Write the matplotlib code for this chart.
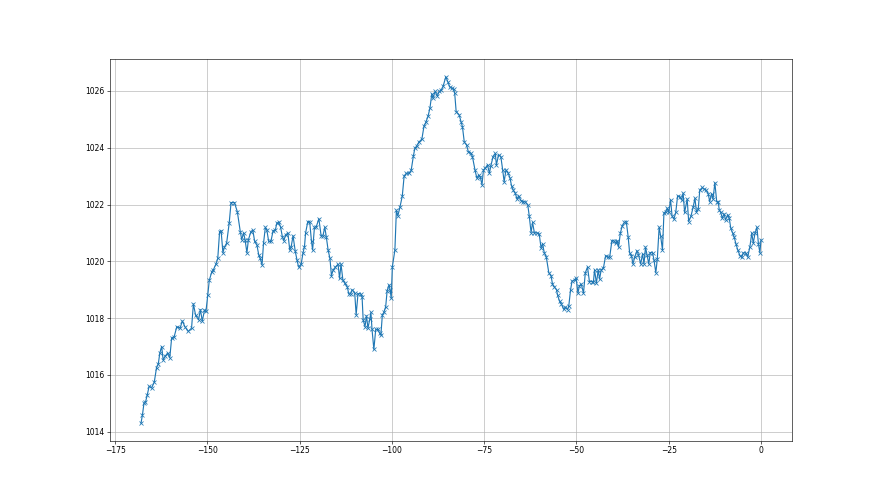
import numpy as np
import matplotlib
matplotlib.use("Agg")
import matplotlib.pyplot as plt

# hours relative to now, and pressure (hPa) in segments
hours_a = [-168.0, -167.6, -167.2, -166.8, -166.3, -165.8, -165.1, -164.4, -163.8, -163.3,
           -162.9, -162.4, -162.0, -161.5, -160.8, -160.2, -159.7, -159.0, -158.3, -157.4,
           -156.8, -156.1, -155.2, -154.3, -153.8, -153.2, -152.4, -151.9, -151.4, -150.8,
           -150.4, -149.9, -149.5, -148.8, -148.4, -147.7, -147.2, -146.7, -146.3, -145.8,
           -145.4, -144.8, -144.1, -143.6, -142.7, -141.9, -141.1, -140.7]
pres_a = [1014.3, 1014.6, 1015.0, 1015.03, 1015.3, 1015.6, 1015.55, 1015.75, 1016.25, 1016.4,
          1016.77, 1017.0, 1016.53, 1016.65, 1016.77, 1016.6, 1017.3, 1017.35, 1017.7, 1017.65,
          1017.9, 1017.7, 1017.53, 1017.65, 1018.5, 1018.1, 1017.94, 1018.3, 1017.9, 1018.27,
          1018.24, 1018.82, 1019.33, 1019.64, 1019.7, 1019.9, 1020.1, 1021.05, 1021.08, 1020.3,
          1020.5, 1020.64, 1021.35, 1022.07, 1022.07, 1021.75, 1021.05, 1020.76]

hours_b = [-140.2, -139.8, -139.3, -138.9, -138.2, -137.7, -137.2, -136.6, -136.1, -135.7,
           -135.2, -134.8, -134.3, -133.9, -133.4, -132.8, -132.2, -131.6, -131.2, -130.7,
           -130.2, -129.7, -129.3, -128.8, -128.2, -127.7, -127.3, -126.8, -126.2, -125.7,
           -125.3, -124.6, -124.1, -123.7, -123.4, -122.8, -122.3, -121.8, -121.5, -121.0,
           -120.5, -119.8, -119.2, -118.7, -118.2, -117.8, -117.3, -116.8, -116.4, -115.9,
           -115.3, -114.6, -114.2, -113.8, -113.3, -112.8, -112.1, -111.7]
pres_b = [1021.0, 1020.76, 1020.3, 1020.76, 1021.05, 1021.1, 1020.7, 1020.58, 1020.23, 1020.1,
          1019.88, 1020.64, 1021.2, 1021.1, 1020.7, 1020.7, 1021.08, 1021.1, 1021.34, 1021.38,
          1021.22, 1020.87, 1020.73, 1020.93, 1021.0, 1020.4, 1020.52, 1020.9, 1020.35, 1020.03,
          1019.8, 1019.9, 1020.3, 1020.52, 1021.0, 1021.4, 1021.4, 1020.7, 1020.4, 1021.2,
          1021.22, 1021.5, 1020.9, 1020.9, 1021.2, 1020.87, 1020.4, 1020.1, 1019.5, 1019.7,
          1019.8, 1019.9, 1019.4, 1019.9, 1019.35, 1019.23, 1019.1, 1018.85]

hours_c = [-111.2, -110.8, -110.1, -109.7, -109.2, -108.5, -108.1, -107.8, -107.3, -106.9,
           -106.5, -106.0, -105.7, -105.4, -104.9, -104.4, -103.9, -103.3, -103.0, -102.6,
           -102.2, -101.7, -101.3, -100.8, -100.5, -100.2, -99.9, -99.2, -98.8, -98.4,
           -97.8, -97.2, -96.7, -96.1, -95.4, -94.8, -94.2, -93.8, -93.3, -92.7,
           -91.9, -91.3, -90.8, -90.2, -89.7, -89.2, -88.9, -88.3, -87.7, -87.2,
           -86.6, -86.1, -85.4, -84.9, -84.3, -83.8]
pres_c = [1018.86, 1019.0, 1018.9, 1018.12, 1018.86, 1018.86, 1018.76, 1017.94, 1017.7, 1018.08,
          1017.65, 1017.97, 1018.2, 1017.6, 1016.9, 1017.6, 1017.6, 1017.47, 1017.4, 1018.12,
          1018.2, 1018.4, 1018.97, 1019.17, 1019.0, 1018.7, 1019.8, 1020.4, 1021.8, 1021.6,
          1021.93, 1022.3, 1023.0, 1023.1, 1023.1, 1023.2, 1023.7, 1023.98, 1024.06, 1024.2,
          1024.3, 1024.77, 1024.9, 1025.12, 1025.4, 1025.9, 1025.74, 1025.98, 1025.82, 1025.98,
          1026.03, 1026.18, 1026.5, 1026.33, 1026.13, 1026.1]

hours_d = [-83.3, -83.0, -82.6, -81.8, -81.3, -80.9, -80.4, -79.8, -79.3, -78.6,
           -78.2, -77.5, -77.0, -76.5, -76.1, -75.6, -75.2, -74.7, -74.1, -73.6,
           -73.2, -72.6, -72.0, -71.7, -71.1, -70.5, -70.0, -69.6, -69.1, -68.5,
           -68.0, -67.6, -67.1, -66.6, -66.1, -65.7, -65.0, -64.5, -63.9, -63.2,
           -62.8, -62.3, -61.9, -61.4, -60.7, -60.1, -59.6, -59.2, -58.7, -58.2,
           -57.5, -56.9, -56.5, -56.0, -55.4, -55.1, -54.6, -54.1, -53.5, -53.0,
           -52.4, -52.1]
pres_d = [1026.06, 1025.92, 1025.27, 1025.16, 1024.92, 1024.74, 1024.2, 1024.1, 1023.86, 1023.8,
          1023.69, 1023.22, 1022.93, 1023.04, 1022.98, 1022.7, 1023.22, 1023.28, 1023.4, 1023.1,
          1023.36, 1023.69, 1023.8, 1023.4, 1023.75, 1023.69, 1023.22, 1022.8, 1023.22, 1023.1,
          1022.93, 1022.66, 1022.5, 1022.4, 1022.19, 1022.3, 1022.14, 1022.1, 1022.1, 1021.99,
          1021.6, 1021.01, 1021.37, 1021.0, 1021.0, 1020.97, 1020.47, 1020.62, 1020.29, 1020.17,
          1019.6, 1019.5, 1019.2, 1019.1, 1019.0, 1018.8, 1018.6, 1018.5, 1018.32, 1018.39,
          1018.3, 1018.41]

hours_e = [-51.6, -51.2, -50.5, -50.1, -49.6, -49.2, -48.7, -48.1, -47.6, -47.0,
           -46.5, -45.9, -45.4, -45.1, -44.6, -44.1, -43.75, -43.3, -42.7, -42.1,
           -41.5, -41.0, -40.4, -39.9, -39.4, -39.0, -38.6, -38.1, -37.6, -37.0,
           -36.5, -36.0, -35.6, -35.1, -34.7, -34.2, -33.6, -33.2, -32.6, -32.1,
           -31.7, -31.3, -30.9, -30.4, -30.0, -29.4, -29.0, -28.5, -28.1, -27.6,
           -27.2, -26.7, -26.3]
pres_e = [1019.0, 1019.3, 1019.35, 1019.41, 1018.88, 1019.14, 1019.2, 1018.88, 1019.6, 1019.8,
          1019.29, 1019.29, 1019.29, 1019.7, 1019.23, 1019.7, 1019.37, 1019.7, 1019.76, 1020.2,
          1020.15, 1020.15, 1020.73, 1020.73, 1020.64, 1020.73, 1020.5, 1021.0, 1021.25, 1021.37,
          1021.4, 1020.87, 1020.3, 1020.2, 1019.91, 1020.15, 1020.38, 1020.23, 1019.91, 1020.26,
          1019.91, 1020.5, 1020.23, 1019.91, 1020.31, 1020.31, 1020.05, 1019.6, 1020.08, 1021.2,
          1020.9, 1020.4, 1021.7]

hours_f = [-25.8, -25.4, -25.0, -24.5, -24.1, -23.6, -23.1, -22.6, -22.0, -21.5,
           -21.1, -20.7, -20.0, -19.6, -19.0, -18.4, -17.9, -17.5, -17.0, -16.6,
           -15.9, -15.4, -14.8, -14.3, -13.9, -13.4, -13.0, -12.5, -12.0, -11.6,
           -11.3, -10.9, -10.5, -10.0, -9.6, -9.0, -8.6, -8.2, -7.7, -7.3,
           -6.8, -6.3, -5.7, -5.2, -4.8, -4.2, -3.6, -3.0, -2.5, -2.1,
           -1.6, -1.1, -0.7, -0.3, 0.0]
pres_f = [1021.75, 1021.87, 1021.72, 1022.16, 1021.6, 1021.49, 1021.72, 1022.3, 1022.28, 1022.16,
          1022.4, 1021.72, 1022.19, 1021.4, 1021.58, 1021.9, 1022.22, 1021.75, 1021.84, 1022.5,
          1022.6, 1022.54, 1022.5, 1022.38, 1022.1, 1022.38, 1022.19, 1022.77, 1022.1, 1022.1,
          1021.8, 1021.72, 1021.52, 1021.67, 1021.46, 1021.64, 1021.52, 1021.17, 1021.0, 1020.87,
          1020.62, 1020.4, 1020.2, 1020.15, 1020.3, 1020.3, 1020.15, 1020.52, 1021.0, 1020.64,
          1021.0, 1021.2, 1020.62, 1020.3, 1020.75]

segments = [(hours_a, pres_a), (hours_b, pres_b), (hours_c, pres_c),
            (hours_d, pres_d), (hours_e, pres_e), (hours_f, pres_f)]
for h, p in segments:
    assert len(h) == len(p), (len(h), len(p), h[0])

hours = np.concatenate([h for h, _ in segments])
pressure = np.concatenate([p for _, p in segments])

fig = plt.figure(figsize=(16, 9), dpi=55)
ax = fig.add_subplot(111)
ax.plot(hours, pressure, marker="x", color="#1f77b4", linewidth=1.5, markersize=6)
ax.grid(True)
fig.savefig("out.png", dpi=55)
